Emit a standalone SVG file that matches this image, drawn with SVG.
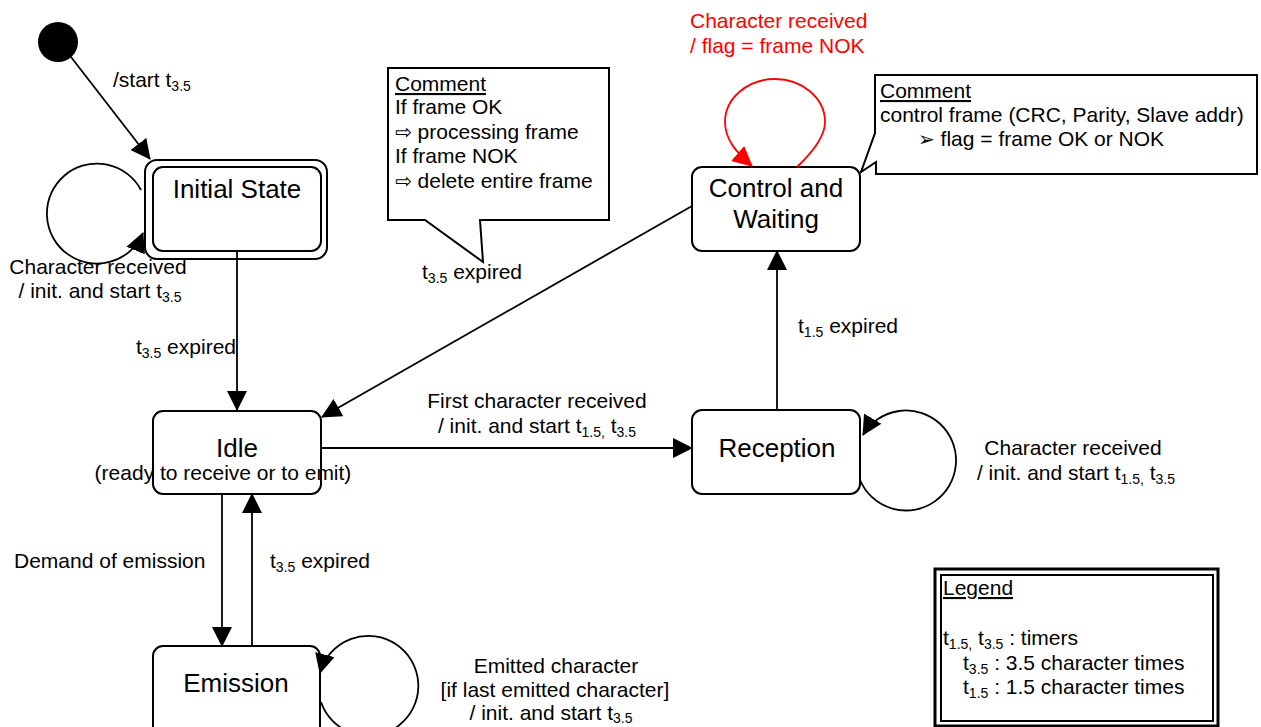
<svg xmlns="http://www.w3.org/2000/svg" width="1261" height="727" viewBox="0 0 1261 727">
<style>
text{font-family:"Liberation Sans",Arial,sans-serif;fill:#000}
.lbl{font-size:21px}
.st{font-size:26px}
.sub{font-size:14px}
.red{fill:#ff0000}
.box{fill:#fff;stroke:#000;stroke-width:2}
.ln{fill:none;stroke:#000;stroke-width:1.8}
.rln{fill:none;stroke:#ff0000;stroke-width:1.8}
.u{text-decoration:underline}
.sym{font-family:"DejaVu Sans",sans-serif;font-size:20px}
</style>
<defs>
<marker id="arr" viewBox="0 0 20 20" markerWidth="20" markerHeight="20" refX="19" refY="10" orient="auto" markerUnits="userSpaceOnUse"><path d="M0,0 L20,10 L0,20 z" fill="#000"/></marker>
<marker id="rarr" viewBox="0 0 20 20" markerWidth="20" markerHeight="20" refX="19" refY="10" orient="auto" markerUnits="userSpaceOnUse"><path d="M0,0 L20,10 L0,20 z" fill="#ff0000"/></marker>
</defs>
<rect width="1261" height="727" fill="#fff"/>
<g id="start">
<circle cx="58" cy="42" r="20" fill="#000"/>
</g>
<g id="initial-state">
<rect class="box" x="145" y="160" width="182" height="99" rx="12"/>
<rect class="box" x="153" y="167" width="168" height="84" rx="10"/>
<text class="st" x="237" y="198" text-anchor="middle">Initial State</text>
</g>
<g id="idle">
<rect class="box" x="153" y="411" width="168" height="83" rx="10"/>
<text class="st" x="237" y="457" text-anchor="middle">Idle</text>
<text class="lbl" x="223" y="480" text-anchor="middle">(ready to receive or to emit)</text>
</g>
<g id="control-waiting">
<rect class="box" x="692" y="167" width="168" height="84" rx="10"/>
<text class="st" x="776" y="197" text-anchor="middle">Control and</text>
<text class="st" x="776" y="228" text-anchor="middle">Waiting</text>
</g>
<g id="reception">
<rect class="box" x="692" y="410" width="168" height="84" rx="10"/>
<text class="st" x="777" y="457" text-anchor="middle">Reception</text>
</g>
<g id="emission">
<rect class="box" x="153" y="646" width="167" height="100" rx="10"/>
<text class="st" x="236" y="692" text-anchor="middle">Emission</text>
</g>
<g id="comment1">
<path class="box" d="M388,68 H609 V220 H480 L483,262 L425,220 H388 Z"/>
<text class="lbl u" x="395" y="91">Comment</text>
<text class="lbl" x="395" y="114">If frame OK</text>
<text class="lbl" x="395" y="139"><tspan class="sym">⇨</tspan> processing frame</text>
<text class="lbl" x="395" y="163">If frame NOK</text>
<text class="lbl" x="395" y="188"><tspan class="sym">⇨</tspan> delete entire frame</text>
</g>
<g id="comment2">
<path class="box" d="M875,75 H1257 V174 H876 V162 L861,172 L875,133 Z"/>
<text class="lbl u" x="880" y="98">Comment</text>
<text class="lbl" x="880" y="122">control frame (CRC, Parity, Slave addr)</text>
<text class="lbl" x="918" y="146"><tspan class="sym">➢</tspan> flag = frame OK or NOK</text>
</g>
<g id="legend">
<rect x="935" y="569" width="283" height="157" fill="#fff" stroke="#000" stroke-width="3"/>
<rect x="941" y="575" width="272" height="146" fill="none" stroke="#000" stroke-width="2"/>
<text class="lbl u" x="943" y="595">Legend</text>
<text class="lbl" x="943" y="645">t<tspan class="sub" dy="4">1.5,</tspan><tspan dy="-4"> t</tspan><tspan class="sub" dy="4">3.5</tspan><tspan dy="-4"> : timers</tspan></text>
<text class="lbl" x="963" y="670">t<tspan class="sub" dy="4">3.5</tspan><tspan dy="-4"> : 3.5 character times</tspan></text>
<text class="lbl" x="963" y="694">t<tspan class="sub" dy="4">1.5</tspan><tspan dy="-4"> : 1.5 character times</tspan></text>
</g>
<g id="connectors">
<line class="ln" x1="71" y1="57" x2="150" y2="159" marker-end="url(#arr)"/>
<path class="ln" d="M141,190 A50,50 0 1 0 143,233" marker-end="url(#arr)"/>
<line class="ln" x1="237" y1="251" x2="237" y2="410" marker-end="url(#arr)"/>
<line class="ln" x1="692" y1="206" x2="322" y2="417" marker-end="url(#arr)"/>
<line class="ln" x1="321" y1="448" x2="692" y2="448" marker-end="url(#arr)"/>
<line class="ln" x1="222" y1="494" x2="222" y2="646" marker-end="url(#arr)"/>
<line class="ln" x1="252" y1="646" x2="252" y2="494" marker-end="url(#arr)"/>
<line class="ln" x1="777" y1="410" x2="777" y2="251" marker-end="url(#arr)"/>
<path class="ln" d="M860,480 A50,50 0 1 0 863,435" marker-end="url(#arr)"/>
<path class="ln" d="M321,702 A50,50 0 1 0 320,673" marker-end="url(#arr)"/>
<path class="rln" d="M797,167 C815,150 825,135 825,122 C825,98 802,79 775,79 C748,79 725,98 725,122 C725,140 737,153 752,166" marker-end="url(#rarr)"/>
<text class="lbl" x="113" y="87">/start t<tspan class="sub" dy="4">3.5</tspan></text>
<text class="lbl" x="98" y="274" text-anchor="middle">Character received</text>
<text class="lbl" x="100" y="298" text-anchor="middle">/ init. and start t<tspan class="sub" dy="4">3.5</tspan></text>
<text class="lbl" x="236" y="354" text-anchor="end">t<tspan class="sub" dy="4">3.5</tspan><tspan dy="-4"> expired</tspan></text>
<text class="lbl" x="422" y="279">t<tspan class="sub" dy="4">3.5</tspan><tspan dy="-4"> expired</tspan></text>
<text class="lbl" x="537" y="408" text-anchor="middle">First character received</text>
<text class="lbl" x="537" y="433" text-anchor="middle">/ init. and start t<tspan class="sub" dy="4">1.5,</tspan><tspan dy="-4"> t</tspan><tspan class="sub" dy="4">3.5</tspan></text>
<text class="lbl" x="798" y="333">t<tspan class="sub" dy="4">1.5</tspan><tspan dy="-4"> expired</tspan></text>
<text class="lbl" x="1073" y="455" text-anchor="middle">Character received</text>
<text class="lbl" x="1076" y="480" text-anchor="middle">/ init. and start t<tspan class="sub" dy="4">1.5,</tspan><tspan dy="-4"> t</tspan><tspan class="sub" dy="4">3.5</tspan></text>
<text class="lbl" x="14" y="568">Demand of emission</text>
<text class="lbl" x="270" y="568">t<tspan class="sub" dy="4">3.5</tspan><tspan dy="-4"> expired</tspan></text>
<text class="lbl" x="556" y="673" text-anchor="middle">Emitted character</text>
<text class="lbl" x="555" y="697" text-anchor="middle">[if last emitted character]</text>
<text class="lbl" x="551" y="720" text-anchor="middle">/ init. and start t<tspan class="sub" dy="3">3.5</tspan></text>
<text class="lbl red" x="690" y="28">Character received</text>
<text class="lbl red" x="690" y="53">/ flag = frame NOK</text>
</g>
</svg>
